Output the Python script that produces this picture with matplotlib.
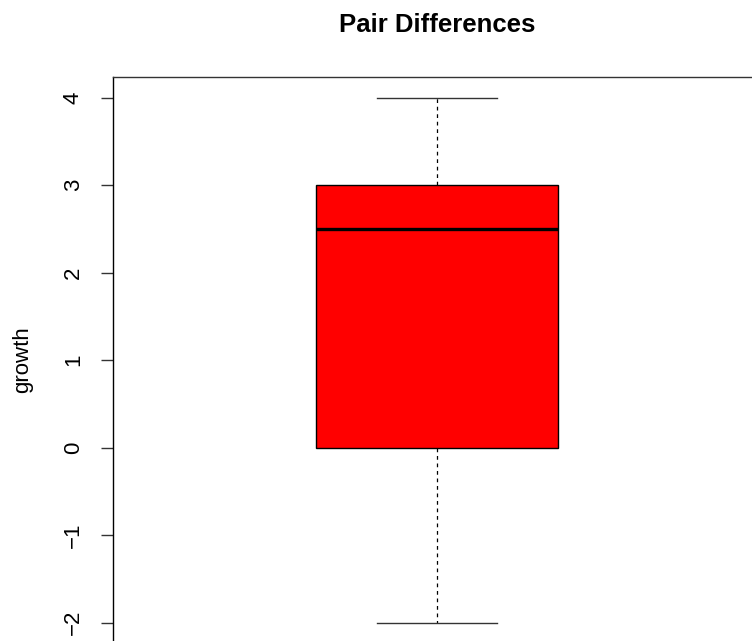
import matplotlib
matplotlib.use("Agg")
import matplotlib.pyplot as plt

# five-number summary of the pair differences
label = "growth"
whisker_low = -2.0
q1 = 0.0
median = 2.5
q3 = 3.0
whisker_high = 4.0
yticks = [-2, -1, 0, 1, 2, 3, 4]
ytick_labels = ["\u22122", "\u22121", "0", "1", "2", "3", "4"]

plt.rcParams['font.family'] = ['Liberation Sans', 'DejaVu Sans']

W, H = 752, 641
fig = plt.figure(figsize=(W / 100, H / 100), dpi=100)
ax = fig.add_axes([113 / W, -2.7 / H, 648 / W, 567 / H])

stats = [{
    'whislo': whisker_low, 'q1': q1, 'med': median,
    'q3': q3, 'whishi': whisker_high, 'fliers': [], 'label': label,
}]
ax.bxp(stats, positions=[1], widths=0.372, patch_artist=True,
       showfliers=False,
       boxprops=dict(facecolor='#ff0000', edgecolor='black', linewidth=1.0),
       medianprops=dict(color='black', linewidth=2.4, solid_capstyle='butt'),
       whiskerprops=dict(color='black', linewidth=0.9, linestyle=(0, (3, 3))),
       capprops=dict(color='#333333', linewidth=1.0),
       capwidths=0.186)

ax.set_xlim(0.5, 1.5)
ax.set_ylim(-2.24, 4.24)
ax.set_xticks([])
ax.set_yticks(yticks)
ax.set_yticklabels(ytick_labels, rotation=90, va='center', fontsize=16)
ax.tick_params(axis='y', length=9, width=1.0, pad=12, color='#333333')
for side in ['left', 'right', 'top', 'bottom']:
    ax.spines[side].set_linewidth(1.0)
    ax.spines[side].set_color('#333333')
ax.spines['left'].set_color('black')

fig.text(23 / W, 1 - 360 / H, label, rotation=90, ha='center', va='center',
         fontsize=16)
fig.text(437 / W, 1 - 32 / H, "Pair Differences", ha='center', va='baseline',
         fontsize=18.5, fontweight='bold')

fig.savefig("out.png", dpi=100)
